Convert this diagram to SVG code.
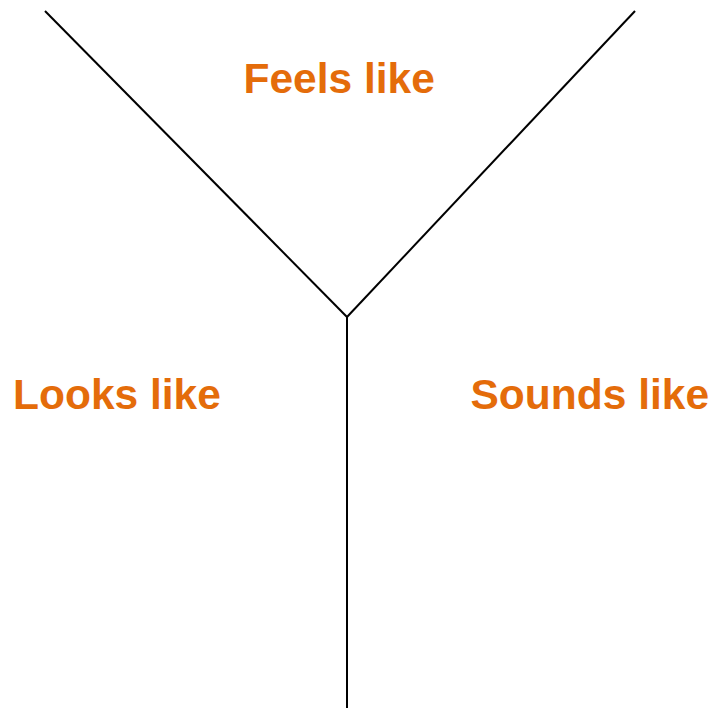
<svg xmlns="http://www.w3.org/2000/svg" width="713" height="708" viewBox="0 0 713 708">
<style>
.lbl{font-family:"Liberation Sans",Arial,sans-serif;font-weight:bold;font-size:42.5px;fill:#E46C0A}
.ln{stroke:#000;stroke-width:2;fill:none}
</style>
<rect width="713" height="708" fill="#fff"/>
<g id="connectors">
<line class="ln" x1="45" y1="11" x2="347" y2="317"/>
<line class="ln" x1="635" y1="11" x2="347" y2="317"/>
<line class="ln" x1="347" y1="317" x2="347" y2="708"/>
</g>
<g id="feels"><text class="lbl" x="243.5" y="93">Feels like</text></g>
<g id="looks"><text class="lbl" x="13" y="409">Looks like</text></g>
<g id="sounds"><text class="lbl" x="470.5" y="409">Sounds like</text></g>
</svg>
